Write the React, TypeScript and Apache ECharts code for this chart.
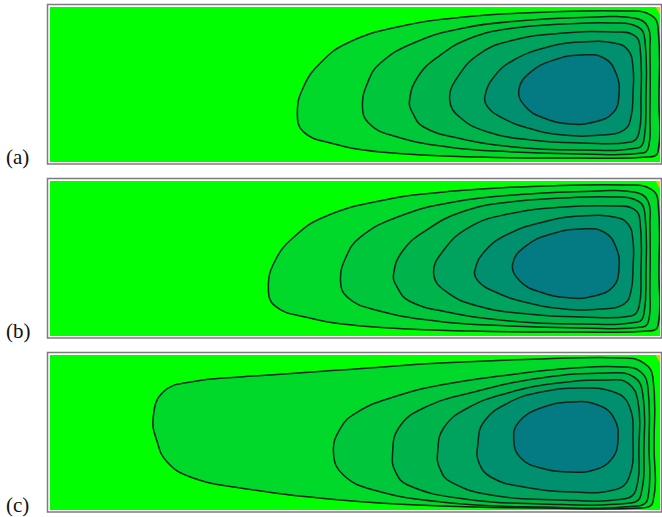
import React, { useEffect, useRef } from "react";
import * as echarts from "echarts";

// Domain: x in [0, 4] (cavity length), y in [0, 1] (cavity height)
const panelLabels = ["(a)", "(b)", "(c)"];

// Fill colour of each level: background, then inside contour 1..6
const levelColors = ["#00FF00", "#00D82A", "#00C63B", "#00B44C", "#00A35D", "#00906F", "#047B82"];
const cornerColor = "#F2C200";

// ---- Panel (a) contours (outer -> inner) ----
const a1 = [[1.622,0.316],[1.662,0.484],[1.773,0.639],[1.951,0.768],[2.279,0.871],[2.713,0.935],[3.264,0.968],[3.81,0.974],[3.941,0.948],[3.987,0.871],[3.993,0.4],[3.987,0.065],[3.921,0.032],[3.481,0.026],[2.824,0.032],[2.167,0.065],[1.839,0.123],[1.662,0.194]];
const a2 = [[2.049,0.355],[2.082,0.51],[2.167,0.639],[2.384,0.768],[2.713,0.865],[3.153,0.916],[3.593,0.935],[3.829,0.929],[3.921,0.871],[3.934,0.723],[3.934,0.29],[3.928,0.11],[3.888,0.058],[3.481,0.052],[3.041,0.065],[2.608,0.097],[2.233,0.174],[2.089,0.252]];
const a3 = [[2.358,0.4],[2.411,0.548],[2.542,0.677],[2.759,0.8],[3.041,0.865],[3.369,0.89],[3.698,0.897],[3.856,0.871],[3.901,0.787],[3.908,0.4],[3.895,0.142],[3.856,0.09],[3.481,0.077],[3.041,0.097],[2.673,0.155],[2.45,0.226],[2.378,0.316]];
const a4 = [[2.621,0.4],[2.673,0.548],[2.824,0.703],[3.041,0.787],[3.369,0.832],[3.698,0.839],[3.829,0.819],[3.869,0.742],[3.875,0.4],[3.862,0.187],[3.81,0.129],[3.481,0.123],[3.153,0.142],[2.87,0.194],[2.693,0.284]];
const a5 = [[2.851,0.419],[2.91,0.548],[3.041,0.658],[3.264,0.742],[3.481,0.774],[3.698,0.768],[3.79,0.723],[3.823,0.613],[3.823,0.445],[3.81,0.29],[3.764,0.206],[3.612,0.174],[3.369,0.174],[3.133,0.219],[2.956,0.29],[2.87,0.355]];
const a6 = [[3.074,0.465],[3.153,0.581],[3.304,0.658],[3.481,0.69],[3.632,0.671],[3.711,0.574],[3.731,0.432],[3.691,0.316],[3.567,0.258],[3.415,0.245],[3.238,0.284],[3.12,0.355]];

// ---- Panel (b) contours ----
const b1 = [[1.432,0.316],[1.475,0.484],[1.599,0.639],[1.797,0.768],[2.16,0.871],[2.647,0.935],[3.243,0.968],[3.81,0.974],[3.941,0.948],[3.987,0.871],[3.993,0.4],[3.987,0.065],[3.921,0.032],[3.481,0.026],[2.772,0.032],[2.039,0.065],[1.673,0.123],[1.475,0.194]];
const b2 = [[1.905,0.355],[1.941,0.51],[2.037,0.639],[2.279,0.768],[2.646,0.865],[3.137,0.916],[3.593,0.935],[3.829,0.929],[3.921,0.871],[3.934,0.723],[3.934,0.29],[3.928,0.11],[3.888,0.058],[3.481,0.052],[3.013,0.065],[2.529,0.097],[2.111,0.174],[1.949,0.252]];
const b3 = [[2.253,0.4],[2.312,0.548],[2.459,0.677],[2.699,0.8],[3.013,0.865],[3.369,0.89],[3.698,0.897],[3.856,0.871],[3.901,0.787],[3.908,0.4],[3.895,0.142],[3.856,0.09],[3.481,0.077],[3.013,0.097],[2.604,0.155],[2.355,0.226],[2.276,0.316]];
const b4 = [[2.516,0.4],[2.577,0.548],[2.751,0.703],[3.003,0.787],[3.369,0.832],[3.698,0.839],[3.829,0.819],[3.869,0.742],[3.875,0.4],[3.862,0.187],[3.81,0.129],[3.481,0.123],[3.132,0.142],[2.804,0.194],[2.6,0.284]];
const b5 = [[2.785,0.419],[2.852,0.548],[3.004,0.658],[3.261,0.742],[3.481,0.774],[3.698,0.768],[3.79,0.723],[3.823,0.613],[3.823,0.445],[3.81,0.29],[3.764,0.206],[3.612,0.174],[3.369,0.174],[3.11,0.219],[2.906,0.29],[2.807,0.355]];
const b6 = [[3.034,0.465],[3.121,0.581],[3.287,0.658],[3.481,0.69],[3.632,0.671],[3.711,0.574],[3.731,0.432],[3.691,0.316],[3.567,0.258],[3.415,0.245],[3.214,0.284],[3.081,0.355]];

// ---- Panel (c) contours ----
const c1 = [[0.677,0.6],[0.742,0.761],[0.92,0.826],[1.248,0.858],[1.905,0.903],[2.562,0.948],[3.218,0.974],[3.764,0.981],[3.895,0.948],[3.954,0.852],[3.961,0.419],[3.954,0.052],[3.875,0.013],[3.218,0.013],[2.562,0.026],[1.905,0.065],[1.248,0.142],[0.92,0.213],[0.768,0.31],[0.703,0.439]];
const c2 = [[1.859,0.368],[1.905,0.529],[2.016,0.632],[2.233,0.723],[2.562,0.806],[3.002,0.871],[3.435,0.916],[3.764,0.923],[3.875,0.89],[3.921,0.787],[3.928,0.419],[3.921,0.077],[3.856,0.026],[3.218,0.019],[2.562,0.052],[2.122,0.129],[1.924,0.226]];
const c3 = [[2.246,0.355],[2.286,0.529],[2.45,0.658],[2.778,0.761],[3.218,0.852],[3.658,0.884],[3.829,0.858],[3.888,0.742],[3.895,0.419],[3.875,0.097],[3.81,0.045],[3.218,0.039],[2.673,0.077],[2.345,0.161],[2.266,0.245]];
const c4 = [[2.542,0.374],[2.581,0.529],[2.739,0.658],[3.002,0.755],[3.33,0.819],[3.658,0.839],[3.79,0.819],[3.856,0.697],[3.862,0.419],[3.842,0.129],[3.764,0.071],[3.33,0.065],[2.89,0.097],[2.627,0.181],[2.555,0.271]];
const c5 = [[2.805,0.419],[2.844,0.568],[3.002,0.69],[3.218,0.761],[3.481,0.787],[3.698,0.761],[3.796,0.677],[3.823,0.465],[3.796,0.206],[3.698,0.129],[3.435,0.116],[3.107,0.148],[2.89,0.213],[2.811,0.31]];
const c6 = [[3.041,0.452],[3.074,0.568],[3.218,0.658],[3.415,0.697],[3.593,0.677],[3.698,0.594],[3.724,0.439],[3.678,0.323],[3.567,0.258],[3.415,0.245],[3.218,0.271],[3.087,0.335]];

// Small high-value patch at the top-right corner
const cornerPatch = [[3.972, 1], [4, 1], [4, 0.95]];

const panelContours = [
  [a1, a2, a3, a4, a5, a6],
  [b1, b2, b3, b4, b5, b6],
  [c1, c2, c3, c4, c5, c6],
];

export default function App() {
  const ref = useRef<HTMLDivElement>(null);

  useEffect(() => {
    if (!ref.current) return;
    const chart = echarts.init(ref.current, null, { renderer: "svg" });
    const tops = [7, 181, 355];
    const gridH = 155;

    const series: any[] = [];
    panelContours.forEach((contours, pi) => {
      series.push({
        type: "custom",
        xAxisIndex: pi,
        yAxisIndex: pi,
        clip: true,
        silent: true,
        data: contours.map((_, k) => [2, 0.5, k]),
        renderItem: (params: any, api: any) => {
          const k = api.value(2);
          const pts = contours[k].map((p) => api.coord(p));
          return {
            type: "polygon",
            shape: { points: pts, smooth: 0.45 },
            style: { fill: levelColors[k + 1], stroke: "#0b2416", lineWidth: 1.5 },
          };
        },
      });
      series.push({
        type: "custom",
        xAxisIndex: pi,
        yAxisIndex: pi,
        clip: true,
        silent: true,
        data: [[2, 0.5, 0]],
        renderItem: (params: any, api: any) => ({
          type: "polygon",
          shape: { points: cornerPatch.map((p) => api.coord(p)) },
          style: { fill: cornerColor, stroke: "none" },
        }),
      });
    });

    const graphic: any[] = [];
    tops.forEach((t, i) => {
      graphic.push({
        type: "rect",
        shape: { x: 47.5, y: t - 2.5, width: 614, height: gridH + 4.5 },
        style: { fill: "none", stroke: "#7c7c7c", lineWidth: 1.5 },
        silent: true,
      });
      graphic.push({
        type: "text",
        style: {
          text: panelLabels[i],
          x: 6,
          y: t + 150,
          textVerticalAlign: "middle",
          verticalAlign: "middle",
          fontSize: 21,
          fontFamily: "Liberation Serif",
          fill: "#111",
        },
        silent: true,
      });
    });

    chart.setOption({
      animation: false,
      grid: tops.map((t) => ({
        left: 50,
        top: t,
        width: 610,
        height: gridH,
        show: true,
        backgroundColor: levelColors[0],
        borderWidth: 0,
      })),
      xAxis: tops.map((_, i) => ({ type: "value", gridIndex: i, min: 0, max: 4, show: false })),
      yAxis: tops.map((_, i) => ({ type: "value", gridIndex: i, min: 0, max: 1, show: false })),
      series,
      graphic,
    });
    return () => chart.dispose();
  }, []);

  return (
    <div
      ref={ref}
      style={{ position: "fixed", left: 0, top: 0, width: 662, height: 517, background: "#fff" }}
    />
  );
}
